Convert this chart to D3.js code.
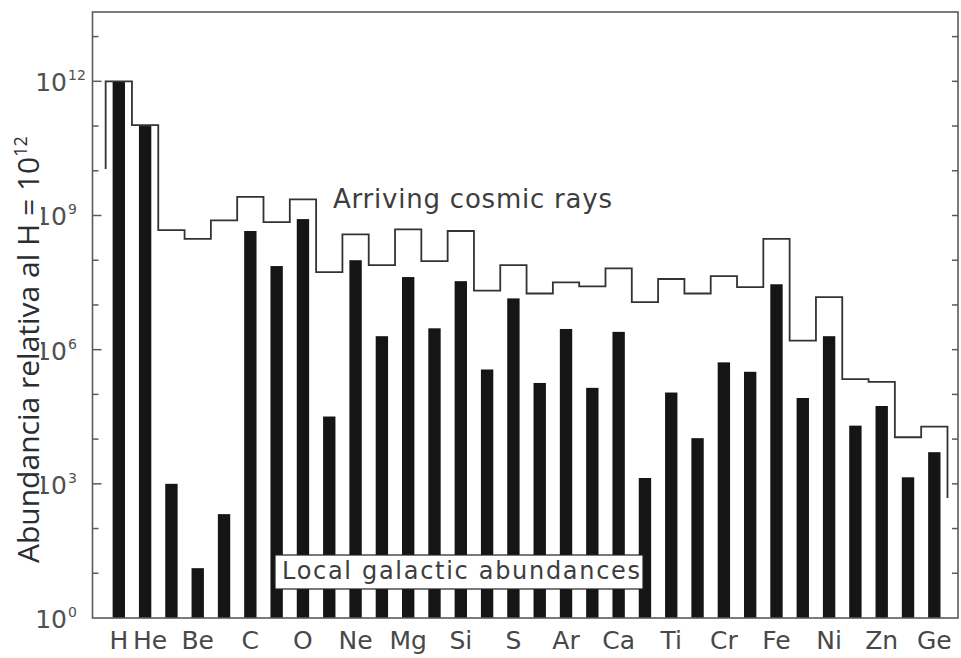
<!DOCTYPE html>
<html>
<head>
<meta charset="utf-8">
<script src="https://cdn.jsdelivr.net/npm/d3@7"></script>
<style>
  html, body { margin: 0; padding: 0; background: #fff; }
  svg { display: block; }
</style>
</head>
<body>
<svg id="chart" width="961" height="658"></svg>
<script>
// Elements Z = 1 .. 32
const elements = ["H","He","Li","Be","B","C","N","O","F","Ne","Na","Mg","Al","Si","P","S",
                  "Cl","Ar","K","Ca","Sc","Ti","V","Cr","Mn","Fe","Co","Ni","Cu","Zn","Ga","Ge"];

// Local galactic abundances (relative to H = 1e12)
const localAbundance = [1e12, 1.0e11, 1.0e3, 1.3e1, 2.1e2, 4.5e8, 7.4e7, 8.3e8, 3.2e4, 1.0e8,
                        2.0e6, 4.2e7, 3.0e6, 3.4e7, 3.6e5, 1.4e7, 1.8e5, 2.9e6, 1.4e5, 2.5e6,
                        1.35e3, 1.1e5, 1.05e4, 5.2e5, 3.2e5, 2.9e7, 8.3e4, 2.0e6, 2.0e4, 5.5e4,
                        1.4e3, 5.1e3];

// Arriving cosmic rays (relative to H = 1e12)
const cosmicAbundance = [1e12, 1.05e11, 4.7e8, 3.0e8, 7.8e8, 2.6e9, 7.1e8, 2.3e9, 5.4e7, 3.8e8,
                         7.8e7, 4.9e8, 9.5e7, 4.5e8, 2.1e7, 7.8e7, 1.8e7, 3.2e7, 2.6e7, 6.6e7,
                         1.15e7, 3.8e7, 1.8e7, 4.4e7, 2.5e7, 3.0e8, 1.6e6, 1.5e7, 2.2e5, 1.9e5,
                         1.1e4, 1.9e4];
// Open ends of the cosmic-ray histogram
const cosmicLeftEnd = 1.1e10;
const cosmicRightEnd = 4.8e2;

// Labelled elements on the x axis
const xLabels = ["H","He","Be","C","O","Ne","Mg","Si","S","Ar","Ca","Ti","Cr","Fe","Ni","Zn","Ge"];
// Decade exponents with a printed label
const yLabelExponents = [0, 3, 6, 9, 12];
const yTickExponents = d3.range(0, 14);

const svg = d3.select("#chart");
const plotLeft = 92.5, plotRight = 958, plotTop = 12, plotBottom = 618;

const x = d3.scaleLinear().domain([0, 32.9]).range([plotLeft, plotRight]);
const y = d3.scaleLog().domain([1, Math.pow(10, 13.55)]).range([plotBottom, plotTop]);

const ink = "#151515";
const frameColor = "#5a5a5a";
const textColor = "#3d3d3d";

const bandW = x(1) - x(0);
const barW = bandW * 0.47;

// Bars: local galactic abundances
svg.append("g")
  .selectAll("rect")
  .data(elements.map((s, i) => ({ s, z: i + 1, v: localAbundance[i] })))
  .join("rect")
  .attr("x", d => x(d.z) - barW / 2)
  .attr("width", barW)
  .attr("y", d => y(d.v))
  .attr("height", d => y(1) - y(d.v))
  .attr("fill", ink);

// Step outline: arriving cosmic rays
const stepPts = [[0.5, cosmicLeftEnd]];
cosmicAbundance.forEach((v, i) => stepPts.push([i + 0.5, v]));
stepPts.push([32.5, cosmicAbundance[cosmicAbundance.length - 1]]);
stepPts.push([32.5, cosmicRightEnd]);

svg.append("path")
  .datum(stepPts)
  .attr("fill", "none")
  .attr("stroke", "#333")
  .attr("stroke-width", 1.8)
  .attr("d", d3.line().x(d => x(d[0])).y(d => y(d[1])).curve(d3.curveStepAfter));

// Frame
svg.append("rect")
  .attr("x", plotLeft).attr("y", plotTop)
  .attr("width", plotRight - plotLeft).attr("height", plotBottom - plotTop)
  .attr("fill", "none").attr("stroke", frameColor).attr("stroke-width", 1.6);

// Inward decade ticks on both sides
const ticks = svg.append("g").attr("stroke", frameColor).attr("stroke-width", 1.5);
yTickExponents.forEach(e => {
  if (e === 0) return;
  const yy = y(Math.pow(10, e));
  const len = (e % 3 === 0) ? 9 : 6;
  ticks.append("line").attr("x1", plotLeft).attr("x2", plotLeft + len).attr("y1", yy).attr("y2", yy);
  ticks.append("line").attr("x1", plotRight).attr("x2", plotRight - 6).attr("y1", yy).attr("y2", yy);
});

// Y tick labels 10^n
const yl = svg.append("g").attr("fill", "#505050").attr("font-family", "DejaVu Sans");
yLabelExponents.forEach(e => {
  const yy = y(Math.pow(10, e)) + 10;
  yl.append("text").attr("x", 67).attr("y", yy).attr("text-anchor", "end")
    .attr("font-size", 25).text("10");
  yl.append("text").attr("x", 68).attr("y", yy - 11).attr("text-anchor", "start")
    .attr("font-size", 14).text(String(e));
});

// X labels
const nudge = { He: 5 };
svg.append("g")
  .selectAll("text")
  .data(xLabels)
  .join("text")
  .attr("x", s => x(elements.indexOf(s) + 1) + (nudge[s] || 0))
  .attr("y", 649)
  .attr("text-anchor", "middle")
  .attr("font-family", "DejaVu Sans")
  .attr("font-size", 25)
  .attr("fill", "#484848")
  .text(s => s);

// Series annotations
svg.append("text")
  .attr("x", 333).attr("y", 208)
  .attr("font-family", "DejaVu Sans").attr("font-size", 26)
  .attr("textLength", 279).attr("lengthAdjust", "spacing")
  .attr("fill", textColor)
  .text("Arriving cosmic rays");

svg.append("rect")
  .attr("x", 275).attr("y", 555).attr("width", 368).attr("height", 34)
  .attr("fill", "#fff").attr("stroke", "#222").attr("stroke-width", 1.2);
svg.append("text")
  .attr("x", 282).attr("y", 579)
  .attr("font-family", "DejaVu Sans").attr("font-size", 24)
  .attr("textLength", 358).attr("lengthAdjust", "spacing")
  .attr("fill", textColor)
  .text("Local galactic abundances");

// Y axis title on a narrow white strip beside the tick labels
svg.append("rect")
  .attr("x", 0).attr("y", 116).attr("width", 41).attr("height", 456)
  .attr("fill", "#fff");
const title = svg.append("text")
  .attr("transform", "translate(39,563) rotate(-90)")
  .attr("font-family", "Open Sans").attr("font-size", 30)
  .attr("fill", "#2a2e33");
title.append("tspan").text("Abundancia relativa al H = 10");
title.append("tspan").attr("font-size", 18).attr("dy", -12).text("12");
</script>
</body>
</html>
